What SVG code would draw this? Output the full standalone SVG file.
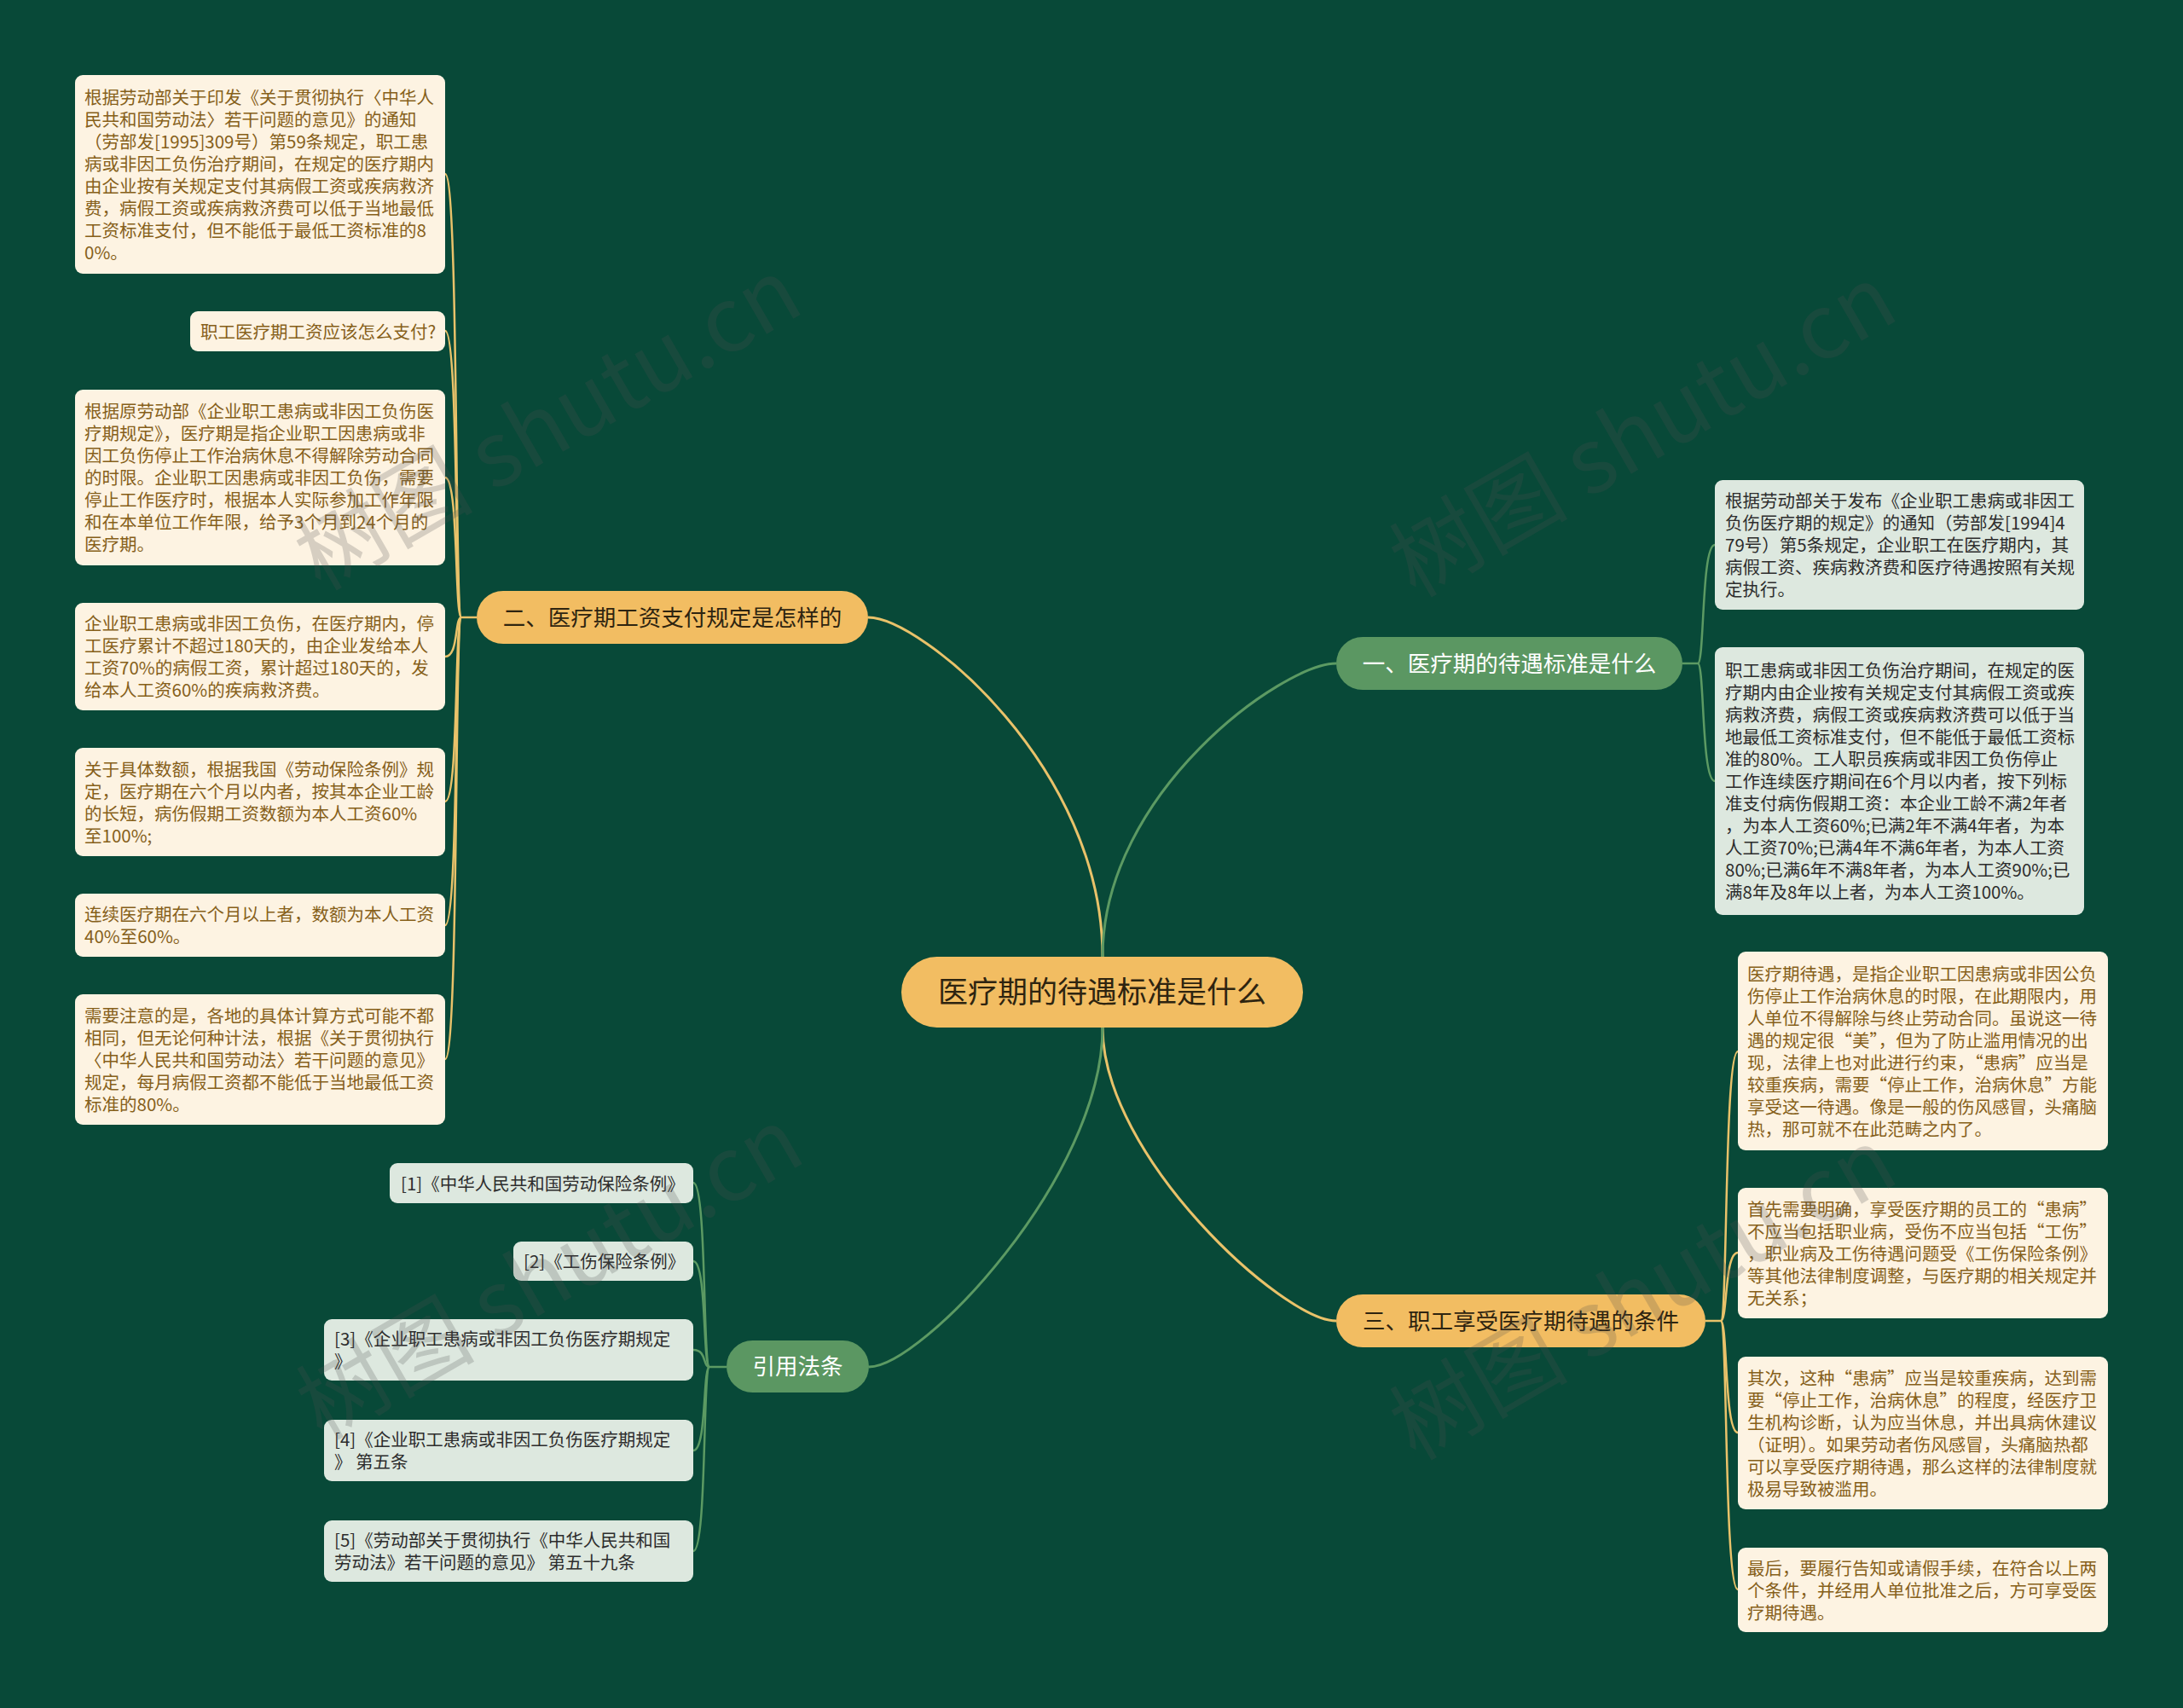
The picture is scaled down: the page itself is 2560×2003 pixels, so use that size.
<svg xmlns="http://www.w3.org/2000/svg" width="2560" height="2003" viewBox="0 0 2560 2003">
<style>
text{font-family:"Noto Sans CJK SC","Noto Sans",sans-serif}
.ly rect{fill:#fdf3e2}
.ly text{fill:#86601a;font-size:20.5px}
.lg rect{fill:#dde8df}
.lg text{fill:#2d2d2d;font-size:20.5px}
.by rect{fill:#f2bd62}
.by text{fill:#2e2410;font-size:26.5px;text-anchor:middle}
.bg2 rect{fill:#5b9762}
.bg2 text{fill:#ffffff;font-size:26.5px;text-anchor:middle}
.cy{stroke:#e9c26a;fill:none;stroke-width:3}
.cg{stroke:#5c9a63;fill:none;stroke-width:3}
.cy2{stroke:#e9c26a;fill:none;stroke-width:2.5}
.cg2{stroke:#5c9a63;fill:none;stroke-width:2.5}
.wm{font-size:105px;fill:#505050;opacity:0.22;font-family:"Noto Sans CJK SC","Noto Sans",sans-serif}
</style>
<rect width="2560" height="2003" fill="#084938"/>

<g id="connectors">
<path class="cy" d="M1018 724 C1080 724 1293 900 1293 1122"/>
<path class="cg" d="M1567 778 C1505 778 1293 929 1293 1122"/>
<path class="cy" d="M1567 1549 C1505 1549 1293 1356 1293 1205"/>
<path class="cg" d="M1019 1603 C1081 1603 1293 1380 1293 1205"/>
<path class="cy2" d="M559 724 L541 724"/>
<path class="cy2" d="M541 724 C533 724 538 204 522 204"/>
<path class="cy2" d="M541 724 C533 724 538 388 522 388"/>
<path class="cy2" d="M541 724 C533 724 538 560 522 560"/>
<path class="cy2" d="M541 724 C533 724 538 770 522 770"/>
<path class="cy2" d="M541 724 C533 724 538 940 522 940"/>
<path class="cy2" d="M541 724 C533 724 538 1085 522 1085"/>
<path class="cy2" d="M541 724 C533 724 538 1242 522 1242"/>
<path class="cg2" d="M1973 778 L1991 778"/>
<path class="cg2" d="M1991 778 C1999 778 1995 639 2011 639"/>
<path class="cg2" d="M1991 778 C1999 778 1995 916 2011 916"/>
<path class="cy2" d="M2000 1549 L2018 1549"/>
<path class="cy2" d="M2018 1549 C2026 1549 2022 1233 2038 1233"/>
<path class="cy2" d="M2018 1549 C2026 1549 2022 1469 2038 1469"/>
<path class="cy2" d="M2018 1549 C2026 1549 2022 1680 2038 1680"/>
<path class="cy2" d="M2018 1549 C2026 1549 2022 1864 2038 1864"/>
<path class="cg2" d="M852 1603 L832 1603"/>
<path class="cg2" d="M832 1603 C824 1603 829 1387 813 1387"/>
<path class="cg2" d="M832 1603 C824 1603 829 1479 813 1479"/>
<path class="cg2" d="M832 1603 C824 1603 829 1583 813 1583"/>
<path class="cg2" d="M832 1603 C824 1603 829 1701 813 1701"/>
<path class="cg2" d="M832 1603 C824 1603 829 1819 813 1819"/>
</g>

<g id="root" class="by">
<rect x="1057" y="1122" width="471" height="83" rx="41.5"/>
<text x="1292.5" y="1176" style="font-size:35px">医疗期的待遇标准是什么</text>
</g>

<g id="branch-2" class="by">
<rect x="559" y="693" width="459" height="62" rx="31"/>
<text x="788.5" y="734">二、医疗期工资支付规定是怎样的</text>
</g>
<g id="branch-1" class="bg2">
<rect x="1567" y="747" width="406" height="62" rx="31"/>
<text x="1770" y="788">一、医疗期的待遇标准是什么</text>
</g>
<g id="branch-3" class="by">
<rect x="1567" y="1518" width="433" height="62" rx="31"/>
<text x="1783.5" y="1559">三、职工享受医疗期待遇的条件</text>
</g>
<g id="branch-ref" class="bg2">
<rect x="852" y="1572" width="167" height="61" rx="30.5"/>
<text x="935.5" y="1612">引用法条</text>
</g>

<g id="l2-1" class="ly">
<rect x="88" y="88" width="434" height="233" rx="9"/>
<text x="99" y="121.5"><tspan x="99">根据劳动部关于印发《关于贯彻执行〈中华人</tspan><tspan x="99" dy="26">民共和国劳动法〉若干问题的意见》的通知</tspan><tspan x="99" dy="26">（劳部发[1995]309号）第59条规定，职工患</tspan><tspan x="99" dy="26">病或非因工负伤治疗期间，在规定的医疗期内</tspan><tspan x="99" dy="26">由企业按有关规定支付其病假工资或疾病救济</tspan><tspan x="99" dy="26">费，病假工资或疾病救济费可以低于当地最低</tspan><tspan x="99" dy="26">工资标准支付，但不能低于最低工资标准的8</tspan><tspan x="99" dy="26">0%。</tspan></text>
</g>
<g id="l2-2" class="ly">
<rect x="223" y="365" width="299" height="47" rx="9"/>
<text x="235" y="396.5">职工医疗期工资应该怎么支付?</text>
</g>
<g id="l2-3" class="ly">
<rect x="88" y="457" width="434" height="206" rx="9"/>
<text x="99" y="490"><tspan x="99">根据原劳动部《企业职工患病或非因工负伤医</tspan><tspan x="99" dy="26">疗期规定》，医疗期是指企业职工因患病或非</tspan><tspan x="99" dy="26">因工负伤停止工作治病休息不得解除劳动合同</tspan><tspan x="99" dy="26">的时限。企业职工因患病或非因工负伤，需要</tspan><tspan x="99" dy="26">停止工作医疗时，根据本人实际参加工作年限</tspan><tspan x="99" dy="26">和在本单位工作年限，给予3个月到24个月的</tspan><tspan x="99" dy="26">医疗期。</tspan></text>
</g>
<g id="l2-4" class="ly">
<rect x="88" y="707" width="434" height="126" rx="9"/>
<text x="99" y="739"><tspan x="99">企业职工患病或非因工负伤，在医疗期内，停</tspan><tspan x="99" dy="26">工医疗累计不超过180天的，由企业发给本人</tspan><tspan x="99" dy="26">工资70%的病假工资，累计超过180天的，发</tspan><tspan x="99" dy="26">给本人工资60%的疾病救济费。</tspan></text>
</g>
<g id="l2-5" class="ly">
<rect x="88" y="877" width="434" height="127" rx="9"/>
<text x="99" y="909.5"><tspan x="99">关于具体数额，根据我国《劳动保险条例》规</tspan><tspan x="99" dy="26">定，医疗期在六个月以内者，按其本企业工龄</tspan><tspan x="99" dy="26">的长短，病伤假期工资数额为本人工资60%</tspan><tspan x="99" dy="26">至100%;</tspan></text>
</g>
<g id="l2-6" class="ly">
<rect x="88" y="1048" width="434" height="74" rx="9"/>
<text x="99" y="1080"><tspan x="99">连续医疗期在六个月以上者，数额为本人工资</tspan><tspan x="99" dy="26">40%至60%。</tspan></text>
</g>
<g id="l2-7" class="ly">
<rect x="88" y="1166" width="434" height="153" rx="9"/>
<text x="99" y="1198.5"><tspan x="99">需要注意的是，各地的具体计算方式可能不都</tspan><tspan x="99" dy="26">相同，但无论何种计法，根据《关于贯彻执行</tspan><tspan x="99" dy="26">〈中华人民共和国劳动法〉若干问题的意见》</tspan><tspan x="99" dy="26">规定，每月病假工资都不能低于当地最低工资</tspan><tspan x="99" dy="26">标准的80%。</tspan></text>
</g>

<g id="l1-1" class="lg">
<rect x="2011" y="563" width="433" height="152" rx="9"/>
<text x="2023" y="595"><tspan x="2023">根据劳动部关于发布《企业职工患病或非因工</tspan><tspan x="2023" dy="26">负伤医疗期的规定》的通知（劳部发[1994]4</tspan><tspan x="2023" dy="26">79号）第5条规定，企业职工在医疗期内，其</tspan><tspan x="2023" dy="26">病假工资、疾病救济费和医疗待遇按照有关规</tspan><tspan x="2023" dy="26">定执行。</tspan></text>
</g>
<g id="l1-2" class="lg">
<rect x="2011" y="759" width="433" height="314" rx="9"/>
<text x="2023" y="794"><tspan x="2023">职工患病或非因工负伤治疗期间，在规定的医</tspan><tspan x="2023" dy="26">疗期内由企业按有关规定支付其病假工资或疾</tspan><tspan x="2023" dy="26">病救济费，病假工资或疾病救济费可以低于当</tspan><tspan x="2023" dy="26">地最低工资标准支付，但不能低于最低工资标</tspan><tspan x="2023" dy="26">准的80%。工人职员疾病或非因工负伤停止</tspan><tspan x="2023" dy="26">工作连续医疗期间在6个月以内者，按下列标</tspan><tspan x="2023" dy="26">准支付病伤假期工资：本企业工龄不满2年者</tspan><tspan x="2023" dy="26">，为本人工资60%;已满2年不满4年者，为本</tspan><tspan x="2023" dy="26">人工资70%;已满4年不满6年者，为本人工资</tspan><tspan x="2023" dy="26">80%;已满6年不满8年者，为本人工资90%;已</tspan><tspan x="2023" dy="26">满8年及8年以上者，为本人工资100%。</tspan></text>
</g>

<g id="l3-1" class="ly">
<rect x="2038" y="1116" width="434" height="233" rx="9"/>
<text x="2049" y="1149.5"><tspan x="2049">医疗期待遇，是指企业职工因患病或非因公负</tspan><tspan x="2049" dy="26">伤停止工作治病休息的时限，在此期限内，用</tspan><tspan x="2049" dy="26">人单位不得解除与终止劳动合同。虽说这一待</tspan><tspan x="2049" dy="26">遇的规定很“美”，但为了防止滥用情况的出</tspan><tspan x="2049" dy="26">现，法律上也对此进行约束，“患病”应当是</tspan><tspan x="2049" dy="26">较重疾病，需要“停止工作，治病休息”方能</tspan><tspan x="2049" dy="26">享受这一待遇。像是一般的伤风感冒，头痛脑</tspan><tspan x="2049" dy="26">热，那可就不在此范畴之内了。</tspan></text>
</g>
<g id="l3-2" class="ly">
<rect x="2038" y="1393" width="434" height="153" rx="9"/>
<text x="2049" y="1425.5"><tspan x="2049">首先需要明确，享受医疗期的员工的“患病”</tspan><tspan x="2049" dy="26">不应当包括职业病，受伤不应当包括“工伤”</tspan><tspan x="2049" dy="26">，职业病及工伤待遇问题受《工伤保险条例》</tspan><tspan x="2049" dy="26">等其他法律制度调整，与医疗期的相关规定并</tspan><tspan x="2049" dy="26">无关系；</tspan></text>
</g>
<g id="l3-3" class="ly">
<rect x="2038" y="1591" width="434" height="179" rx="9"/>
<text x="2049" y="1623.5"><tspan x="2049">其次，这种“患病”应当是较重疾病，达到需</tspan><tspan x="2049" dy="26">要“停止工作，治病休息”的程度，经医疗卫</tspan><tspan x="2049" dy="26">生机构诊断，认为应当休息，并出具病休建议</tspan><tspan x="2049" dy="26">（证明）。如果劳动者伤风感冒，头痛脑热都</tspan><tspan x="2049" dy="26">可以享受医疗期待遇，那么这样的法律制度就</tspan><tspan x="2049" dy="26">极易导致被滥用。</tspan></text>
</g>
<g id="l3-4" class="ly">
<rect x="2038" y="1815" width="434" height="99" rx="9"/>
<text x="2049" y="1846.5"><tspan x="2049">最后，要履行告知或请假手续，在符合以上两</tspan><tspan x="2049" dy="26">个条件，并经用人单位批准之后，方可享受医</tspan><tspan x="2049" dy="26">疗期待遇。</tspan></text>
</g>

<g id="ref-1" class="lg">
<rect x="457" y="1364" width="356" height="47" rx="9"/>
<text x="470" y="1395.5">[1]《中华人民共和国劳动保险条例》</text>
</g>
<g id="ref-2" class="lg">
<rect x="602" y="1456" width="211" height="46" rx="9"/>
<text x="614" y="1487">[2]《工伤保险条例》</text>
</g>
<g id="ref-3" class="lg">
<rect x="380" y="1547" width="433" height="72" rx="9"/>
<text x="392" y="1578"><tspan x="392">[3]《企业职工患病或非因工负伤医疗期规定</tspan><tspan x="392" dy="26">》</tspan></text>
</g>
<g id="ref-4" class="lg">
<rect x="380" y="1665" width="433" height="72" rx="9"/>
<text x="392" y="1696"><tspan x="392">[4]《企业职工患病或非因工负伤医疗期规定</tspan><tspan x="392" dy="26">》 第五条</tspan></text>
</g>
<g id="ref-5" class="lg">
<rect x="380" y="1783" width="433" height="72" rx="9"/>
<text x="392" y="1814"><tspan x="392">[5]《劳动部关于贯彻执行《中华人民共和国</tspan><tspan x="392" dy="26">劳动法》若干问题的意见》 第五十九条</tspan></text>
</g>

<g id="watermarks">
<text class="wm" x="643" y="534" text-anchor="middle" transform="rotate(-30 643 498)">树图 shutu.cn</text>
<text class="wm" x="1927" y="542" text-anchor="middle" transform="rotate(-30 1927 506)">树图 shutu.cn</text>
<text class="wm" x="645" y="1530" text-anchor="middle" transform="rotate(-30 645 1494)">树图 shutu.cn</text>
<text class="wm" x="1927" y="1554" text-anchor="middle" transform="rotate(-30 1927 1518)">树图 shutu.cn</text>
</g>
</svg>
